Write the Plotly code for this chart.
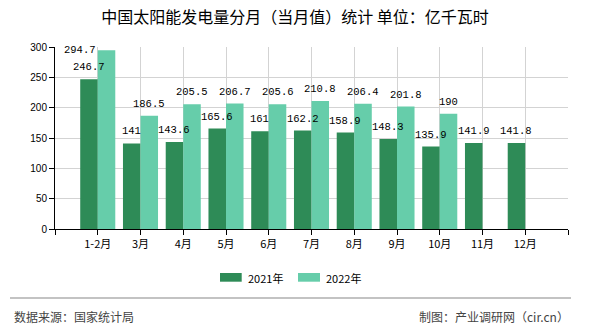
import plotly.graph_objects as go

# Monthly solar power generation, 100 million kWh
months = ["1-2月", "3月", "4月", "5月", "6月", "7月", "8月", "9月", "10月", "11月", "12月"]
gen_2021 = [246.7, 141, 143.6, 165.6, 161, 162.2, 158.9, 148.3, 135.9, 141.9, 141.8]
gen_2022 = [294.7, 186.5, 205.5, 206.7, 205.6, 210.8, 206.4, 201.8, 190, None, None]
series_names = ["2021年", "2022年"]
colors = ["#2e8b57", "#66cdaa"]
y_ticks = [0, 50, 100, 150, 200, 250, 300]

W, H = 590, 330
L, R, T, B = 55, 22, 47, 101
BARGAP = 0.18
Y_MAX = 300

plot_w = W - L - R
plot_h = H - T - B


def px_x(px):
    return (px - L) / plot_w


def px_y(py):
    return (H - B - py) / plot_h


idx = list(range(len(months)))
fig = go.Figure()
for name, vals, col in zip(series_names, [gen_2021, gen_2022], colors):
    fig.add_trace(go.Bar(x=idx, y=vals, name=name, marker=dict(color=col, line=dict(width=0)),
                         showlegend=False, hoverinfo="skip"))

# value labels above each bar
label_font = dict(family="Liberation Mono, DejaVu Sans Mono, monospace", size=10.5, color="#000")
half = (1 - BARGAP) / 4  # offset of each bar centre within a group
units_per_px = Y_MAX / plot_h
annotations = []
for s, vals in enumerate([gen_2021, gen_2022]):
    off = -half if s == 0 else half
    for i, v in enumerate(vals):
        if v is None:
            continue
        txt = f"{v:g}"
        if v + 18 * units_per_px > Y_MAX:
            # no room above: put the label beside the bar, to its left
            annotations.append(dict(x=i + off - half, y=v, xref="x", yref="y", text=txt,
                                    showarrow=False, xanchor="right", yanchor="middle",
                                    font=label_font))
        else:
            annotations.append(dict(x=i + off, y=v, xref="x", yref="y", text=txt,
                                    showarrow=False, xanchor="center", yanchor="middle",
                                    yshift=12, font=label_font))

# legend drawn by hand
legend_font = dict(family="Noto Sans CJK SC, sans-serif", size=11, color="#000")
shapes = []
for (x0, x1, tx), name, col in zip([(220, 241.7, 246), (298, 320, 324)], series_names, colors):
    shapes.append(dict(type="rect", xref="paper", yref="paper",
                       x0=px_x(x0), x1=px_x(x1), y0=px_y(281.7), y1=px_y(273),
                       fillcolor=col, line=dict(width=0)))
    annotations.append(dict(x=px_x(tx), y=px_y(277.5), xref="paper", yref="paper", text=name,
                            showarrow=False, xanchor="left", yanchor="middle", font=legend_font))

# footer separator and source notes
shapes.append(dict(type="line", xref="paper", yref="paper", x0=px_x(10), x1=px_x(571),
                   y0=px_y(298), y1=px_y(298), line=dict(color="#888888", width=1.2)))
foot_font = dict(family="Noto Sans CJK SC, sans-serif", size=12, color="#444")
annotations.append(dict(x=px_x(12), y=px_y(316), xref="paper", yref="paper", text="数据来源：国家统计局",
                        showarrow=False, xanchor="left", yanchor="middle", font=foot_font))
annotations.append(dict(x=px_x(571), y=px_y(316), xref="paper", yref="paper",
                        text="制图：产业调研网（cir.cn）",
                        showarrow=False, xanchor="right", yanchor="middle", font=foot_font))

fig.update_layout(
    width=W, height=H,
    margin=dict(l=L, r=R, t=T, b=B, pad=0),
    paper_bgcolor="white", plot_bgcolor="white",
    barmode="group", bargap=BARGAP, bargroupgap=0,
    title=dict(text="中国太阳能发电量分月（当月值）统计 单位：亿千瓦时",
               x=0.5, xref="container", xanchor="center",
               y=1 - 17 / H, yref="container", yanchor="middle",
               font=dict(family="Noto Sans CJK SC, sans-serif", size=16, color="#000")),
    xaxis=dict(range=[-1, len(months)], tickmode="array",
               tickvals=[-1] + idx + [len(months)], ticktext=[""] + months + [""],
               showgrid=True, gridcolor="#d3d3d3", gridwidth=1,
               showline=True, linecolor="#000", linewidth=1,
               ticks="outside", ticklen=5, tickcolor="#000",
               tickfont=dict(family="Noto Sans CJK SC, sans-serif", size=11, color="#000"),
               zeroline=False, fixedrange=True),
    yaxis=dict(range=[0, Y_MAX], tickmode="array", tickvals=y_ticks,
               showgrid=True, gridcolor="#d3d3d3", gridwidth=1,
               showline=True, linecolor="#000", linewidth=1,
               ticks="outside", ticklen=5, tickcolor="#000",
               tickfont=dict(family="Liberation Sans, Arial, sans-serif", size=10, color="#000"),
               zeroline=False, fixedrange=True),
    annotations=annotations,
    shapes=shapes,
)

fig.write_html("out.html", config={"displayModeBar": False})
